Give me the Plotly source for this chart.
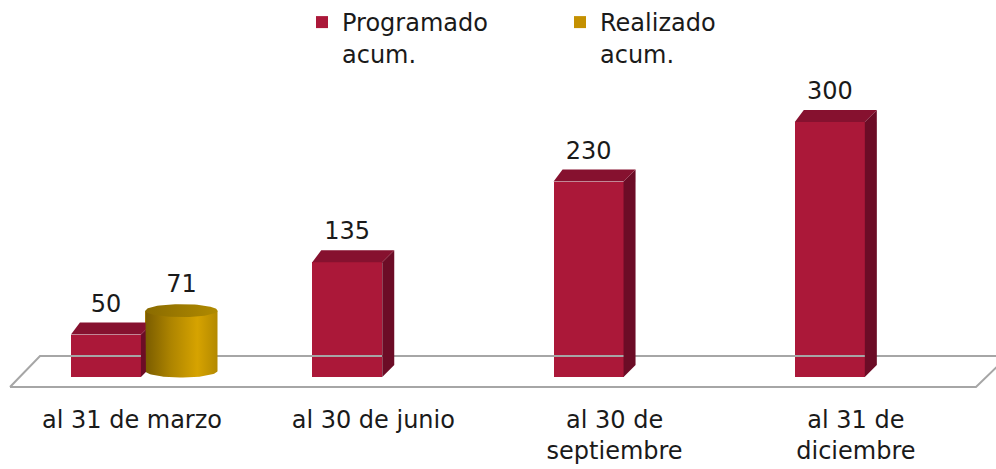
import numpy as np
import plotly.graph_objects as go

# ---------------- data ----------------
categories = ["al 31 de marzo", "al 30 de junio", "al 30 de<br>septiembre", "al 31 de<br>diciembre"]
programado = [50, 135, 230, 300]
realizado = [71, None, None, None]
series_names = ["Programado<br>acum.", "Realizado<br>acum."]

# ---------------- styling / geometry ----------------
W, H = 996, 469
FONT = "DejaVu Sans"
FS = 24
TXT = "#1a1a1a"
RED = "#AB1839"
RED_TOP = "#86112F"
RED_SIDE = "#6C0C26"
GOLD = "#C49000"

CAT0_PX = 132.0      # pixel of first category
CAT_PX = 241.3       # pixels per category
ZERO_PX = 377.0      # pixel of y=0
PX_PER_UNIT = 0.85   # vertical pixels per value unit
PLOT_H = 400         # plot-area height (px)

x_range = [-CAT0_PX / CAT_PX, (W - CAT0_PX) / CAT_PX]
y_range = [-(PLOT_H - ZERO_PX) / PX_PER_UNIT, ZERO_PX / PX_PER_UNIT]

def px_x(p):  # pixel distance -> x units
    return p / CAT_PX

def px_y(p):  # pixel distance -> y units
    return p / PX_PER_UNIT

P_OFF, P_W = -0.108, px_x(70)
R_OFF, R_W = 0.205, px_x(72)
DXL, DXR, DY = px_x(9), px_x(12), px_y(12)

fig = go.Figure()

# floor parallelogram
fl = (-(CAT0_PX - 10) / CAT_PX, px_y(-10))
fr = ((976 - CAT0_PX) / CAT_PX, px_y(-10))
br = ((1008 - CAT0_PX) / CAT_PX, px_y(21))
bl = ((40 - CAT0_PX) / CAT_PX, px_y(21))
fig.add_trace(go.Scatter(
    x=[fl[0], fr[0], br[0], bl[0], fl[0]],
    y=[fl[1], fr[1], br[1], bl[1], fl[1]],
    mode="lines", line=dict(color="#a6a6a6", width=2),
    showlegend=False, hoverinfo="skip"))

# programado: front faces
px_centers = [i + P_OFF for i in range(len(categories))]
fig.add_trace(go.Bar(
    x=px_centers, y=programado, width=P_W, name=series_names[0],
    marker=dict(color=RED, line=dict(width=0)), legendrank=1))

# programado: side and top faces
for xc, v in zip(px_centers, programado):
    x0, x1 = xc - P_W / 2, xc + P_W / 2
    fig.add_trace(go.Scatter(
        x=[x1, x1 + DXR, x1 + DXR, x1, x1], y=[0, DY, v + DY, v, 0],
        fill="toself", fillcolor=RED_SIDE, mode="lines", line=dict(width=0),
        showlegend=False, hoverinfo="skip"))
    fig.add_trace(go.Scatter(
        x=[x0, x0 + DXL, x1 + DXR, x1, x0], y=[v, v + DY, v + DY, v, v],
        fill="toself", fillcolor=RED_TOP, mode="lines", line=dict(width=0),
        showlegend=False, hoverinfo="skip"))

# realizado: cylinders
CYL_BASE = px_y(6)
RY = px_y(6.5)
r_centers = [i + R_OFF for i in range(len(categories))]
fig.add_trace(go.Bar(
    x=r_centers, y=realizado, base=CYL_BASE, width=R_W, name=series_names[1],
    marker=dict(color=GOLD, line=dict(width=0)), legendrank=2))

t = np.linspace(0, np.pi, 40)
tt = np.linspace(0, 2 * np.pi, 80)
for xc, v in zip(r_centers, realizado):
    if v is None:
        continue
    rx = R_W / 2
    top = CYL_BASE + v
    bx = list(xc - rx * np.cos(t))
    by = list(CYL_BASE - RY * np.sin(t))
    fig.add_trace(go.Scatter(
        x=[xc - rx] + bx + [xc + rx, xc - rx],
        y=[top] + by + [top, top],
        fill="toself", mode="lines", line=dict(width=0),
        fillgradient=dict(type="horizontal", colorscale=[
            [0, "#7a5c00"], [0.35, "#ad8400"], [0.72, "#d6a300"], [1, "#b38900"]]),
        showlegend=False, hoverinfo="skip"))
    fig.add_trace(go.Scatter(
        x=list(xc + rx * np.cos(tt)), y=list(top + RY * np.sin(tt)),
        fill="toself", mode="lines", line=dict(width=0),
        fillgradient=dict(type="horizontal", colorscale=[
            [0, "#8a6b00"], [1, "#b08a00"]]),
        showlegend=False, hoverinfo="skip"))

# data labels
LBL = px_y(29)
fig.add_trace(go.Scatter(
    x=px_centers, y=[v + LBL for v in programado], text=[str(v) for v in programado],
    mode="text", textposition="middle center",
    textfont=dict(family=FONT, size=FS, color=TXT),
    showlegend=False, hoverinfo="skip", cliponaxis=False))
rx_lbl = [xc for xc, v in zip(r_centers, realizado) if v is not None]
ry_lbl = [CYL_BASE + v + px_y(25) for v in realizado if v is not None]
fig.add_trace(go.Scatter(
    x=rx_lbl, y=ry_lbl, text=[str(v) for v in realizado if v is not None],
    mode="text", textposition="middle center",
    textfont=dict(family=FONT, size=FS, color=TXT),
    showlegend=False, hoverinfo="skip", cliponaxis=False))

fig.update_layout(
    width=W, height=H,
    margin=dict(l=0, r=0, t=0, b=H - PLOT_H),
    paper_bgcolor="white", plot_bgcolor="white",
    barmode="overlay", bargap=0,
    font=dict(family=FONT, size=FS, color=TXT),
    showlegend=True,
    legend=dict(
        orientation="h", x=302 / W, y=1, xanchor="left", yanchor="top",
        entrywidth=213, entrywidthmode="pixels", valign="top",
        font=dict(family=FONT, size=FS, color=TXT),
        bgcolor="rgba(0,0,0,0)", traceorder="normal"),
    xaxis=dict(
        range=x_range, showgrid=False, zeroline=False, showline=False,
        tickmode="array", tickvals=list(range(len(categories))), ticktext=categories,
        tickfont=dict(family=FONT, size=FS, color=TXT), ticks="",
        ticklabelstandoff=3, fixedrange=True),
    yaxis=dict(range=y_range, visible=False, showgrid=False, zeroline=False, fixedrange=True),
)

fig.write_html("out.html", config={"displayModeBar": False},
               post_script="document.body.style.margin='0px';")
